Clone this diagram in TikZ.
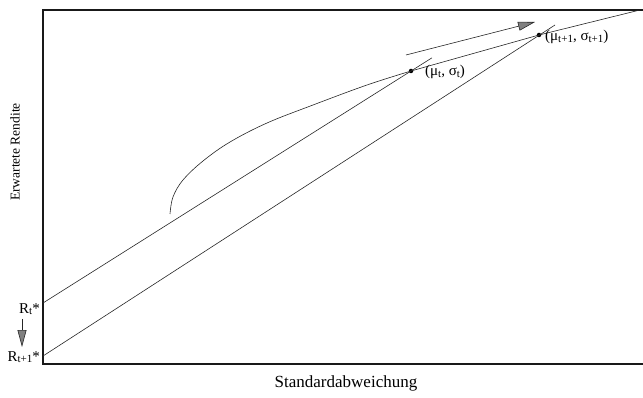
\documentclass[tikz,border=0pt]{standalone}
\usepackage{fontspec}
\setmainfont{Liberation Serif}
\usetikzlibrary{arrows.meta}
\newcommand{\lowsub}[1]{\raisebox{-1.5pt}{\fontsize{11}{11}\selectfont #1}}
\tikzset{
  thinline/.style={line width=0.6pt, draw=black!85},
  axisline/.style={line width=1.1pt, draw=black!90},
  grayarrow/.style={thinline, -{Triangle[length=17pt,width=9pt,fill=black!50]}},
  lbl/.style={inner sep=0pt, font=\fontsize{15}{15}\selectfont},
  dot/.style={circle, fill=black, inner sep=0pt, minimum size=4.5pt},
}
\begin{document}
\begin{tikzpicture}[x=1pt,y=-1pt]
\useasboundingbox (0,0) rectangle (643,398);
% axes frame
\coordinate (tl) at (43,10);
\coordinate (tr) at (643,10);
\coordinate (bl) at (43,364);
\coordinate (br) at (643,364);
\draw[axisline] (tr) -- (tl) -- (bl) -- (br);
% intercepts
\coordinate (Rt) at (43,303);
\coordinate (Rt1) at (43,356);
% tangency points
\node[dot] (P1) at (411,71) {};
\node[dot] (P2) at (539,35) {};
\coordinate (L1end) at (432,57.8);
\coordinate (L2end) at (555,25);
\coordinate (corner) at (640,10);
% frontier
\draw[thinline] plot[smooth, tension=0.6] coordinates {(170,214) (173,197) (183,180) (203,161) (230,142) (267,123) (313,105) (367,85) (411,71)};
\draw[thinline] (P1.center) -- (P2.center) -- (corner);
% capital market lines
\draw[thinline] (Rt) -- (L1end);
\draw[thinline] (Rt1) -- (L2end);
% shift arrow
\coordinate (a1) at (406,55);
\coordinate (a2) at (535,22);
\draw[grayarrow] (a1) -- (a2);
% labels
\node[lbl, anchor=west] (m1) at (425,72) {(μ\lowsub{t}, σ\lowsub{t})};
\node[lbl, anchor=west] (m2) at (545,37) {(μ\lowsub{t+1}, σ\lowsub{t+1})};
\node[lbl, anchor=east] (r1) at (40,309) {R\lowsub{t}*};
\node[lbl, anchor=east] (r2) at (40,357) {R\lowsub{t+1}*};
\coordinate (d1) at (22,319);
\coordinate (d2) at (22,347);
\draw[grayarrow] (d1) -- (d2);
\node[inner sep=0pt, font=\fontsize{13.5}{13.5}\selectfont, rotate=90] (ylab) at (15,152) {Erwartete Rendite};
\node[inner sep=0pt, font=\fontsize{17}{17}\selectfont] (xlab) at (346,383) {Standardabweichung};
\end{tikzpicture}
\end{document}
